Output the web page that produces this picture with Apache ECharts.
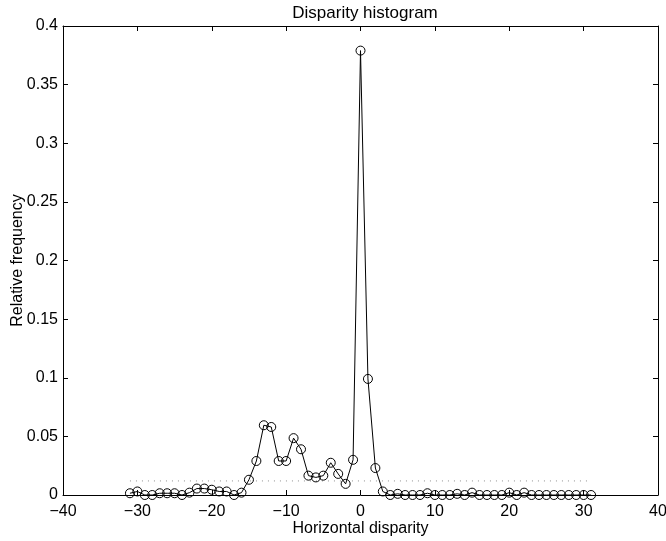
<!DOCTYPE html>
<html>
<head>
<meta charset="utf-8">
<script src="https://cdn.jsdelivr.net/npm/echarts@6/dist/echarts.min.js"></script>
<style>html,body{margin:0;padding:0;background:#fff}#c{width:666px;height:541px}</style>
</head>
<body>
<div id="c"></div>
<script>
const disparities = [-31,-30,-29,-28,-27,-26,-25,-24,-23,-22,-21,-20,-19,-18,-17,-16,-15,-14,-13,-12,-11,-10,-9,-8,-7,-6,-5,-4,-3,-2,-1,0,1,2,3,4,5,6,7,8,9,10,11,12,13,14,15,16,17,18,19,20,21,22,23,24,25,26,27,28,29,30,31];
const frequencies = [0.0015,0.003,0,0,0.0015,0.0015,0.0015,0,0.002,0.0055,0.0055,0.0045,0.003,0.003,0,0.002,0.013,0.029,0.0595,0.058,0.029,0.029,0.0485,0.039,0.0165,0.015,0.0165,0.0275,0.018,0.0095,0.030,0.379,0.099,0.023,0.003,0,0.001,0,0,0,0.0015,0,0,0,0.001,0,0.002,0,0,0,0,0.002,0,0.002,0,0,0,0,0,0,0,0,0];
const thresholdX = [-31, 30.5];
const thresholdY = [0.012, 0.012];
const xTicks = [-40,-30,-20,-10,0,10,20,30,40];
const yTicks = [0,0.05,0.1,0.15,0.2,0.25,0.3,0.35,0.4];

const FONT = 'Liberation Sans';
const chart = echarts.init(document.getElementById('c'), null, {renderer:'canvas'});
const lineStyle = {color:'#000', width:1};
const tickBase = {show:true, inside:true, length:5, lineStyle:{color:'#000', width:1}};
chart.setOption({
  animation:false,
  backgroundColor:'#fff',
  title:{text:'Disparity histogram', left:360, textAlign:'center', top:0,
    textStyle:{fontFamily:FONT, fontSize:17, fontWeight:'normal', color:'#000'}},
  grid:{left:63, right:8, top:26, bottom:46, containLabel:false, outerBoundsMode:'none'},
  xAxis:[{
    type:'value', min:xTicks[0], max:xTicks[xTicks.length-1], interval:10,
    name:'Horizontal disparity', nameLocation:'middle', nameGap:26, nameMoveOverlap:false,
    nameTextStyle:{fontFamily:FONT, fontSize:16, color:'#000'},
    axisLine:{show:true, onZero:false, lineStyle:lineStyle},
    axisTick:tickBase, splitLine:{show:false},
    axisLabel:{fontFamily:FONT, fontSize:16, color:'#000', margin:9,
      formatter:v=>String(v).replace('-','\u2212')}
  },{
    type:'value', position:'top', min:xTicks[0], max:xTicks[xTicks.length-1], interval:10,
    axisLine:{show:true, onZero:false, lineStyle:lineStyle},
    axisTick:tickBase, axisLabel:{show:false}, splitLine:{show:false}
  }],
  yAxis:[{
    type:'value', min:yTicks[0], max:yTicks[yTicks.length-1], interval:0.05,
    name:'Relative frequency', nameLocation:'middle', nameGap:37, nameMoveOverlap:false,
    nameTextStyle:{fontFamily:FONT, fontSize:16, color:'#000'},
    axisLine:{show:true, onZero:false, lineStyle:lineStyle},
    axisTick:tickBase, splitLine:{show:false},
    axisLabel:{fontFamily:FONT, fontSize:16, color:'#000', margin:5}
  },{
    type:'value', position:'right', min:yTicks[0], max:yTicks[yTicks.length-1], interval:0.05,
    axisLine:{show:true, onZero:false, lineStyle:lineStyle},
    axisTick:tickBase, axisLabel:{show:false}, splitLine:{show:false}
  }],
  series:[{
    type:'line',
    data:thresholdX.map((x,i)=>[x, thresholdY[i]]),
    symbol:'none',
    lineStyle:{color:'#909090', width:1, type:[1,5]},
    silent:true, z:1
  },{
    type:'line',
    data:disparities.map((x,i)=>[x, frequencies[i]]),
    symbol:'circle', symbolSize:9, showAllSymbol:true,
    itemStyle:{color:'rgba(0,0,0,0)', borderColor:'#000', borderWidth:1},
    lineStyle:{color:'#000', width:1},
    z:2
  }]
});
</script>
</body>
</html>
